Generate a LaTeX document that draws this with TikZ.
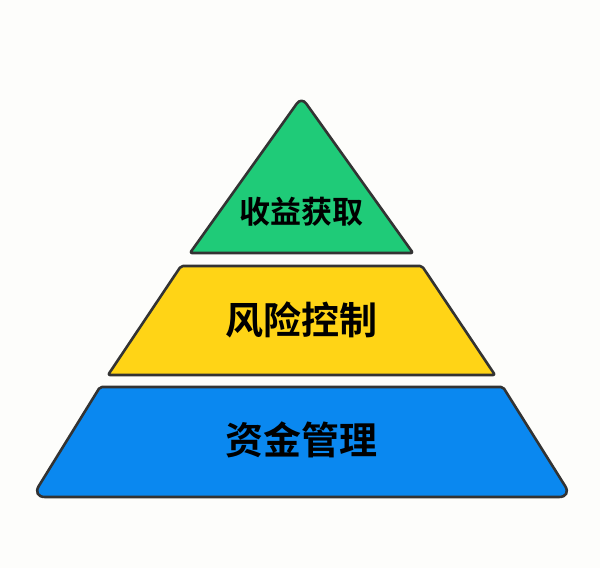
\documentclass[tikz,border=0pt]{standalone}
\usepackage{fontspec}
\newfontfamily\cjk{Noto Sans CJK SC Bold}
\definecolor{tgreen}{HTML}{1FCB78}
\definecolor{tyellow}{HTML}{FFD416}
\definecolor{tblue}{HTML}{0A88F0}
\definecolor{tline}{HTML}{333333}
\definecolor{bg}{HTML}{FDFDFB}
\begin{document}
\begin{tikzpicture}[x=1pt,y=-1pt,
  tier/.style={draw=tline,line width=2.6pt,line join=round},
  lbl/.style={font=\cjk, text=black, inner sep=0pt}]
\fill[bg] (0,0) rectangle (600,568);
\useasboundingbox (0,0) rectangle (600,568);
% top triangle
\path[tier,fill=tgreen,rounded corners=2pt]
  (190,253) [rounded corners=8pt] -- (301.5,97) [rounded corners=2pt] -- (413,253) -- cycle;
% middle trapezoid
\path[tier,fill=tyellow,rounded corners=2pt]
  (181,266) -- (422,266) -- (495,375) -- (108,375) -- cycle;
% bottom trapezoid
\path[tier,fill=tblue,rounded corners=2pt]
  (100,387) -- (503,387) [rounded corners=13pt] -- (572,497) -- (32,497) [rounded corners=2pt] -- cycle;
\node[lbl,font=\cjk\fontsize{31}{31}\selectfont] (t1) at (301,212) {收益获取};
\node[lbl,font=\cjk\fontsize{38}{38}\selectfont] (t2) at (301,320) {风险控制};
\node[lbl,font=\cjk\fontsize{38}{38}\selectfont] (t3) at (301,440) {资金管理};
\end{tikzpicture}
\end{document}
